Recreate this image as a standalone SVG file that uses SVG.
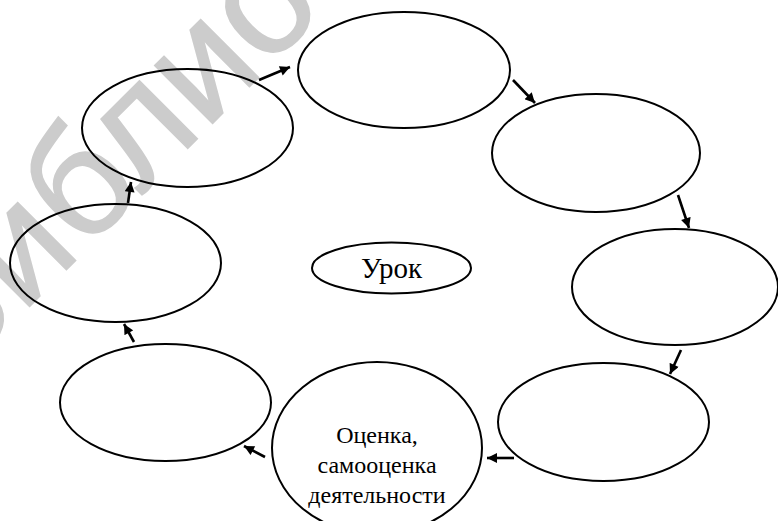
<svg xmlns="http://www.w3.org/2000/svg" width="778" height="521" viewBox="0 0 778 521">
  <style>
    .node { fill: none; stroke: #000; stroke-width: 2; }
    .conn { stroke: #000; stroke-width: 2.6; fill: none; marker-end: url(#arr); }
    .lbl { font-family: "Liberation Serif", "Times New Roman", serif; fill: #000; text-anchor: middle; }
    .wm { font-family: "Liberation Sans", Arial, sans-serif; fill: #cccccc; stroke: #cccccc; stroke-width: 1.5; }
  </style>
  <defs>
    <marker id="arr" viewBox="0 0 10 10" refX="10" refY="5" markerWidth="11" markerHeight="10" markerUnits="userSpaceOnUse" orient="auto">
      <path d="M0,0 L10,5 L0,10 Z" fill="#000"/>
    </marker>
  </defs>
  <rect width="778" height="521" fill="#fff"/>
  <text class="wm" font-size="155" transform="translate(-50,386) rotate(-45)">Библиотека БГПУ</text>

  <g id="node-a"><ellipse class="node" cx="187.5" cy="128" rx="105.5" ry="59"/></g>
  <g id="node-b"><ellipse class="node" cx="404" cy="70" rx="106" ry="58"/></g>
  <g id="node-c"><ellipse class="node" cx="596" cy="153" rx="104" ry="59"/></g>
  <g id="node-d"><ellipse class="node" cx="675" cy="287" rx="103" ry="58"/></g>
  <g id="node-e"><ellipse class="node" cx="603.5" cy="422" rx="105.5" ry="59"/></g>
  <g id="node-f">
    <ellipse class="node" cx="377" cy="448" rx="105" ry="86"/>
    <text class="lbl" font-size="24" x="377" y="443">Оценка,</text>
    <text class="lbl" font-size="24" x="377" y="473">самооценка</text>
    <text class="lbl" font-size="24" x="377" y="503">деятельности</text>
  </g>
  <g id="node-g"><ellipse class="node" cx="165.5" cy="402.5" rx="105.5" ry="58.5"/></g>
  <g id="node-h"><ellipse class="node" cx="115.5" cy="263" rx="105.5" ry="59"/></g>
  <g id="node-center">
    <ellipse class="node" cx="391.5" cy="268" rx="79.5" ry="25.5"/>
    <text class="lbl" font-size="29" x="391.5" y="278">Урок</text>
  </g>

  <g id="connectors">
    <line class="conn" x1="128" y1="203" x2="131" y2="182"/>
    <line class="conn" x1="259" y1="80" x2="290" y2="67"/>
    <line class="conn" x1="513" y1="80" x2="535" y2="103"/>
    <line class="conn" x1="678" y1="195" x2="689" y2="228"/>
    <line class="conn" x1="681" y1="350" x2="670" y2="374"/>
    <line class="conn" x1="514" y1="458" x2="487" y2="458"/>
    <line class="conn" x1="265" y1="457" x2="244" y2="446"/>
    <line class="conn" x1="134" y1="342" x2="124" y2="324"/>
  </g>
</svg>
